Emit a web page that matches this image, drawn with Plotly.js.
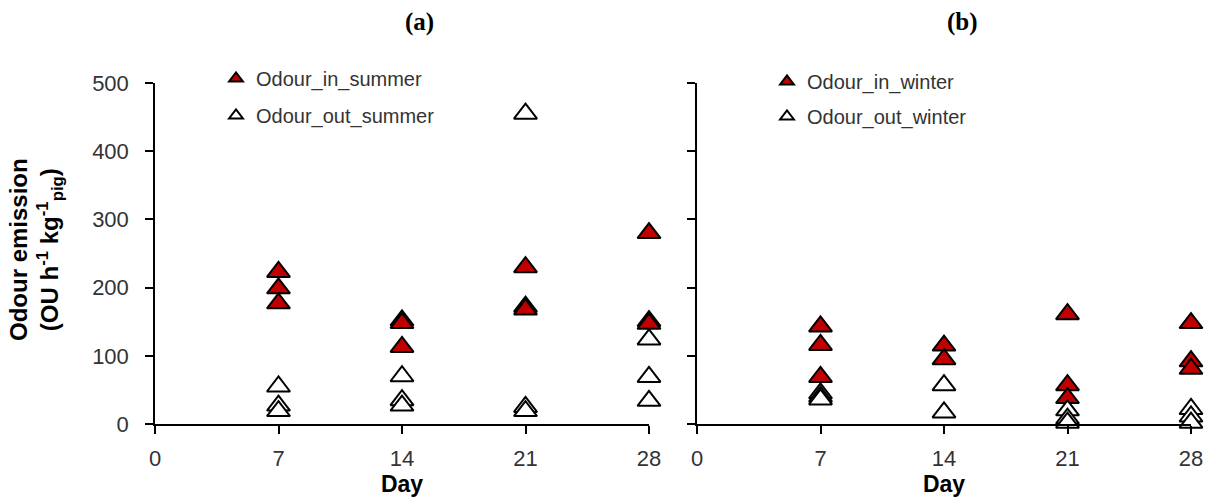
<!DOCTYPE html>
<html>
<head>
<meta charset="utf-8">
<script src="https://cdn.plot.ly/plotly-3.0.1.min.js"></script>
<style>
  html, body { margin: 0; padding: 0; background: #fff; }
  #chart { width: 1211px; height: 501px; }
</style>
</head>
<body>
<div id="chart"></div>
<script>
// ---- data ----
const dayTicks = [0, 7, 14, 21, 28];
const yTicks = [0, 100, 200, 300, 400, 500];

const summerInDays  = [7, 7, 7, 14, 14, 14, 21, 21, 21, 28, 28, 28];
const summerIn      = [223, 199, 177, 152, 148, 113, 230, 172, 168, 280, 151, 147];
const summerOutDays = [7, 7, 7, 14, 14, 14, 21, 21, 21, 28, 28, 28];
const summerOut     = [55, 27, 19, 70, 35, 27, 455, 25, 19, 124, 69, 34];

const winterInDays  = [7, 7, 7, 14, 14, 21, 21, 21, 28, 28, 28];
const winterIn      = [143, 116, 69, 115, 95, 161, 57, 38, 148, 92, 81];
const winterOutDays = [7, 7, 7, 14, 14, 21, 21, 21, 28, 28, 28];
const winterOut     = [45, 40, 36, 57, 17, 20, 8, 2, 22, 11, 2];

const seriesNames = ['Odour_in_summer', 'Odour_out_summer', 'Odour_in_winter', 'Odour_out_winter'];

// ---- styling ----
const RED = '#C00000';
const MSIZE = 20;
const tickFont = { family: 'Liberation Sans, Arial, sans-serif', size: 22, color: '#333333' };

function tr(x, y, name, fill, xa, ya, leg, grp) {
  return {
    type: 'scatter', mode: 'markers', x: x, y: y, name: name,
    xaxis: xa, yaxis: ya, legend: leg, legendgroup: grp,
    cliponaxis: false, hoverinfo: 'x+y+name',
    marker: { symbol: 'triangle-up', size: MSIZE, color: fill, line: { color: '#000', width: 2 } }
  };
}

const data = [
  tr(summerInDays, summerIn, seriesNames[0], RED, 'x', 'y', 'legend', 'g1'),
  tr(summerOutDays, summerOut, seriesNames[1], '#FFFFFF', 'x', 'y', 'legend', 'g2'),
  tr(winterInDays, winterIn, seriesNames[2], RED, 'x2', 'y2', 'legend2', 'g3'),
  tr(winterOutDays, winterOut, seriesNames[3], '#FFFFFF', 'x2', 'y2', 'legend2', 'g4')
];

const L = 155, R = 20, T = 83, B = 77, W = 1211, H = 501;
const PW = W - L - R, PH = H - T - B;
const px = v => (v - L) / PW;
const py = v => (H - B - v) / PH;

function xAxis(d0, d1, anchor) {
  return {
    domain: [d0, d1], anchor: anchor, range: [0, 28],
    tickmode: 'array', tickvals: dayTicks, ticktext: dayTicks.map(String),
    ticks: 'outside', ticklen: 8, tickwidth: 1.5, tickcolor: '#000',
    showline: true, linecolor: '#000', linewidth: 1.5,
    showgrid: false, zeroline: false, tickfont: tickFont, ticklabelstandoff: 6,
    fixedrange: true,
    title: { text: '<b>Day</b>', font: { family: 'Liberation Sans, Arial, sans-serif', size: 23, color: '#000' }, standoff: 6 }
  };
}
function yAxis(anchor, labels) {
  return {
    anchor: anchor, range: [0, 500],
    tickmode: 'array', tickvals: yTicks, ticktext: yTicks.map(String),
    showticklabels: labels,
    ticks: 'outside', ticklen: 8, tickwidth: 1.5, tickcolor: '#000',
    showline: true, linecolor: '#000', linewidth: 1.5,
    showgrid: false, zeroline: false, tickfont: tickFont, ticklabelstandoff: 12,
    fixedrange: true
  };
}

const legFont = { family: 'Liberation Sans, Arial, sans-serif', size: 20, color: '#333333' };

const layout = {
  width: W, height: H,
  margin: { l: L, r: R, t: T, b: B, pad: 0 },
  paper_bgcolor: '#fff', plot_bgcolor: '#fff',
  showlegend: true,
  xaxis: xAxis(0, px(649), 'y'),
  yaxis: yAxis('x', true),
  xaxis2: xAxis(px(697), 1, 'y2'),
  yaxis2: yAxis('x2', false),
  legend: {
    x: px(216), y: py(59), xanchor: 'left', yanchor: 'top',
    bgcolor: 'rgba(0,0,0,0)', font: legFont, itemsizing: 'constant',
    traceorder: 'grouped', tracegroupgap: 8, borderwidth: 0
  },
  legend2: {
    x: px(767), y: py(62), xanchor: 'left', yanchor: 'top',
    bgcolor: 'rgba(0,0,0,0)', font: legFont, itemsizing: 'constant',
    traceorder: 'grouped', tracegroupgap: 6, borderwidth: 0
  },
  annotations: [
    { text: '<b>Odour emission</b><br><b>(OU h<sup>-1</sup> kg<sup>-1</sup><sub>pig</sub>)</b>',
      xref: 'paper', yref: 'paper', x: px(36), y: py(250), xanchor: 'center', yanchor: 'middle',
      textangle: -90, showarrow: false,
      font: { family: 'Liberation Sans, Arial, sans-serif', size: 24, color: '#000' } },
    { text: '<b>(a)</b>', xref: 'paper', yref: 'paper', x: px(419.5), y: py(22),
      xanchor: 'center', yanchor: 'middle', showarrow: false,
      font: { family: 'Liberation Serif, Times New Roman, serif', size: 25, color: '#000' } },
    { text: '<b>(b)</b>', xref: 'paper', yref: 'paper', x: px(962), y: py(22),
      xanchor: 'center', yanchor: 'middle', showarrow: false,
      font: { family: 'Liberation Serif, Times New Roman, serif', size: 25, color: '#000' } }
  ]
};

Plotly.newPlot('chart', data, layout, { displayModeBar: false, responsive: false });
</script>
</body>
</html>
